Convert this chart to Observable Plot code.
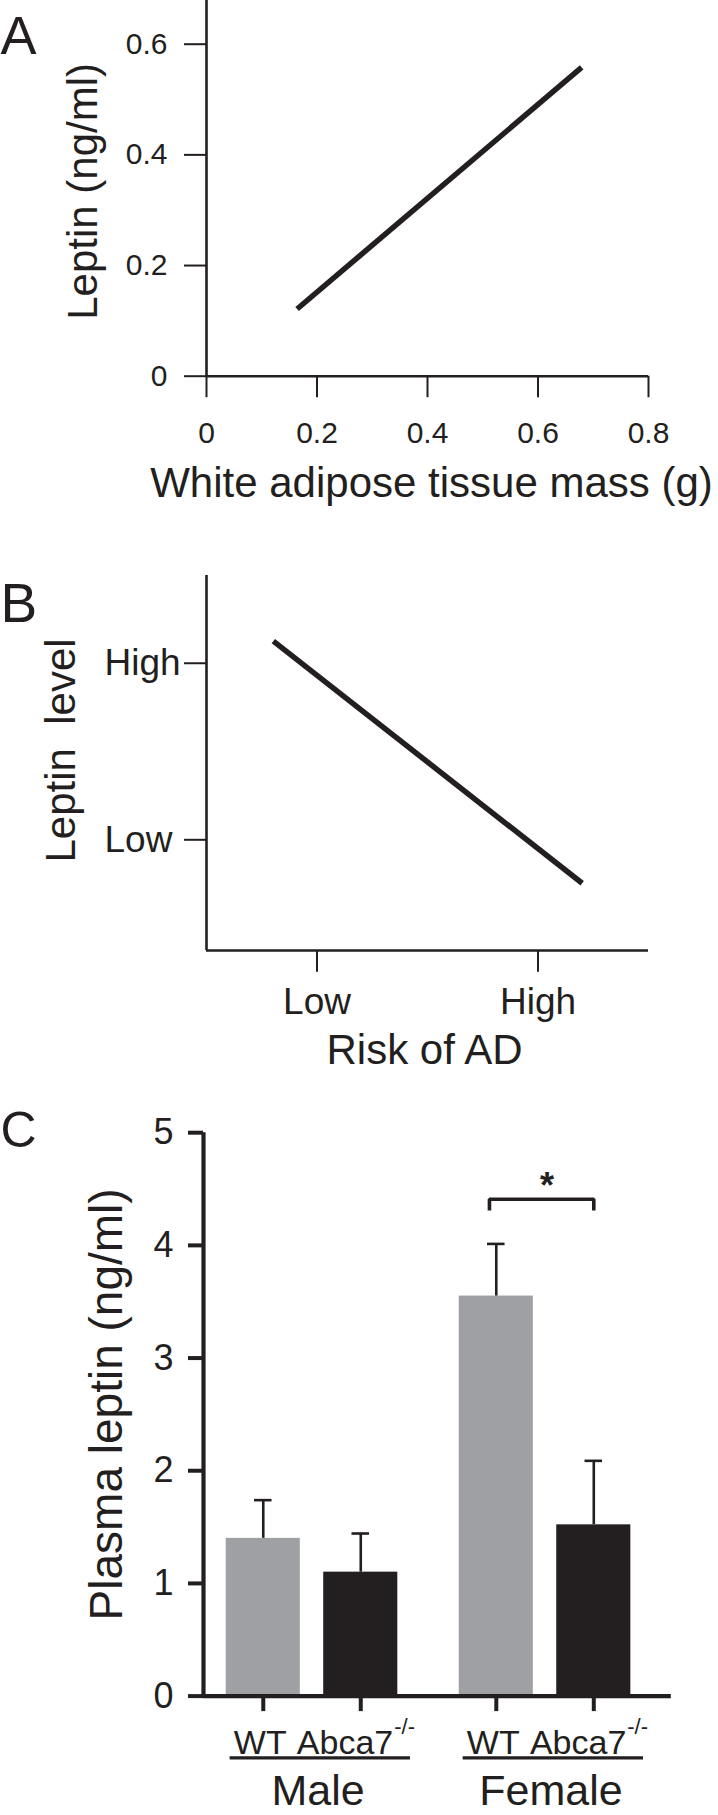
<!DOCTYPE html>
<html>
<head>
<meta charset="utf-8">
<script src="https://cdn.jsdelivr.net/npm/d3@7"></script>
<script src="https://cdn.jsdelivr.net/npm/@observablehq/plot@0.6"></script>
<style>
  html, body { margin: 0; padding: 0; background: #ffffff; }
  #fig { position: relative; width: 718px; height: 1815px; overflow: hidden; background: #ffffff; }
  #fig > svg { position: absolute; left: 0; }
</style>
</head>
<body>
<div id="fig"></div>
<script>
// ---------- Data ----------
// Panel A: leptin vs white adipose tissue mass (regression line endpoints)
const massA = [0.164, 0.679];
const leptinA = [0.1215, 0.558];
const xTicksA = [0, 0.2, 0.4, 0.6, 0.8];
const yTicksA = [0, 0.2, 0.4, 0.6];

// Panel B: schematic leptin level vs risk of AD (1 = Low, 2 = High)
const riskB = [0.121, 0.680];
const levelB = [2.125, 0.754];
const riskTicksB = [0.2, 0.6];
const riskLabelsB = ["Low", "High"];
const levelTicksB = [1, 2];
const levelLabelsB = ["Low", "High"];

// Panel C: plasma leptin by sex and genotype (mean, SEM)
const sexes = ["Male", "Female"];
const genotypes = ["WT", "Abca7"];
const cSex = ["Male", "Male", "Female", "Female"];
const cGeno = ["WT", "Abca7", "WT", "Abca7"];
const cMean = [1.40, 1.10, 3.55, 1.52];
const cSE = [0.339, 0.343, 0.463, 0.568];
const yTicksC = [0, 1, 2, 3, 4, 5];
const sigY = 4.41;          // significance bracket level
const sigDrop = 0.10;       // bracket end drop
const sigLabel = "*";

// ---------- Style ----------
const INK = "#231f20";
const GRAY = "#9fa0a3";
const FONT = "'Liberation Sans', Arial, Helvetica, sans-serif";
const fig = document.getElementById("fig");
const baseStyle = {fontFamily: FONT, color: INK, background: "transparent", overflow: "visible"};

function place(svg, top) { svg.style.top = top + "px"; fig.appendChild(svg); }

// ---------- Panel A ----------
const dataA = massA.map((m, i) => ({mass: m, leptin: leptinA[i]}));
const plotA = Plot.plot({
  width: 718, height: 520,
  marginLeft: 206, marginRight: 70, marginTop: 0, marginBottom: 144.3,
  x: {domain: [0, 0.8]},
  y: {domain: [0, 0.679]},
  style: baseStyle,
  marks: [
    Plot.axisY({ticks: yTicksA, tickSize: 22, tickPadding: 17, fontSize: 30, strokeWidth: 2,
      tickFormat: d => d === 0 ? "0" : d.toFixed(1), label: null}),
    Plot.axisX({ticks: xTicksA, tickSize: 21.5, tickPadding: 24, fontSize: 30, strokeWidth: 2,
      tickFormat: d => d === 0 ? "0" : d.toFixed(1), label: null}),
    Plot.ruleX([0], {strokeWidth: 2.6, stroke: INK}),
    Plot.ruleY([0], {strokeWidth: 2.6, stroke: INK}),
    Plot.line(dataA, {x: "mass", y: "leptin", stroke: INK, strokeWidth: 5.5, strokeLinecap: "butt"}),
    Plot.text(["White adipose tissue mass (g)"], {text: d => d, frameAnchor: "bottom", dy: 121, dx: 4,
      textAnchor: "middle", lineAnchor: "bottom", fontSize: 42, fill: INK}),
    Plot.text(["Leptin (ng/ml)"], {text: d => d, frameAnchor: "left", rotate: -90, textAnchor: "middle",
      lineAnchor: "top", dx: -139.3, dy: 3, fontSize: 42, fill: INK}),
    Plot.text(["A"], {text: d => d, frameAnchor: "top-left", textAnchor: "start", lineAnchor: "bottom",
      dx: -206, dy: 53.3, fontSize: 54, fill: INK})
  ]
});
place(plotA, 0);

// ---------- Panel B ----------
const dataB = riskB.map((r, i) => ({risk: r, level: levelB[i]}));
const plotB = Plot.plot({
  width: 718, height: 550,
  marginLeft: 206, marginRight: 70, marginTop: 55, marginBottom: 120,
  x: {domain: [0, 0.8]},
  y: {domain: [0.373, 2.497]},
  style: baseStyle,
  marks: [
    Plot.axisY({ticks: levelTicksB, tickSize: 22, tickPadding: 80, textAnchor: "start", fontSize: 37,
      strokeWidth: 2, tickFormat: d => levelLabelsB[levelTicksB.indexOf(d)], label: null}),
    Plot.axisX({ticks: riskTicksB, tickSize: 21.7, tickPadding: 15.6, fontSize: 37, strokeWidth: 2,
      tickFormat: d => riskLabelsB[riskTicksB.indexOf(d)], label: null}),
    Plot.ruleX([0], {strokeWidth: 2.6, stroke: INK}),
    Plot.ruleY([0.373], {strokeWidth: 2.6, stroke: INK}),
    Plot.line(dataB, {x: "risk", y: "level", stroke: INK, strokeWidth: 5.5, strokeLinecap: "butt"}),
    Plot.text(["Risk of AD"], {text: d => d, frameAnchor: "bottom", dy: 113.3, dx: -3,
      textAnchor: "middle", lineAnchor: "bottom", fontSize: 42, fill: INK}),
    Plot.text(["Leptin\u00a0 level"], {text: d => d, frameAnchor: "left", rotate: -90, textAnchor: "middle",
      lineAnchor: "top", dx: -161, dy: -12.5, fontSize: 42, fill: INK}),
    Plot.text(["B"], {text: d => d, frameAnchor: "top-left", textAnchor: "start", lineAnchor: "bottom",
      dx: -206, dy: 46.7, fontSize: 55, fill: INK})
  ]
});
place(plotB, 520);

// ---------- Panel C ----------
const GROUP_STEP = 2.39, BAR_HALF = 0.38, CAP_HALF = 0.09;
const posOf = (s, g) => sexes.indexOf(s) * GROUP_STEP + genotypes.indexOf(g);
const dataC = cMean.map((m, i) => ({sex: cSex[i], geno: cGeno[i], mean: m, se: cSE[i], pos: posOf(cSex[i], cGeno[i])}));
const groupsC = sexes.map(s => ({sex: s, first: posOf(s, genotypes[0]), last: posOf(s, genotypes[1])}));
const xDomainC = [-0.613, 4.185];
const sigPair = dataC.filter(d => d.sex === "Female");
const bracket = [
  {x: sigPair[0].pos - 0.07, y: sigY - sigDrop},
  {x: sigPair[0].pos - 0.07, y: sigY},
  {x: sigPair[1].pos, y: sigY},
  {x: sigPair[1].pos, y: sigY - sigDrop}
];

const plotC = Plot.plot({
  width: 718, height: 745,
  marginLeft: 203, marginRight: 47.2, marginTop: 62.2, marginBottom: 119.4,
  x: {domain: xDomainC},
  y: {domain: [0, 5]},
  color: {domain: genotypes, range: [GRAY, INK]},
  style: baseStyle,
  marks: [
    Plot.rectY(dataC, {x1: d => d.pos - BAR_HALF, x2: d => d.pos + BAR_HALF, y: "mean", fill: "geno"}),
    Plot.ruleX(dataC, {x: "pos", y1: "mean", y2: d => d.mean + d.se, stroke: INK, strokeWidth: 2.6}),
    Plot.ruleY(dataC, {y: d => d.mean + d.se, x1: d => d.pos - CAP_HALF, x2: d => d.pos + CAP_HALF, stroke: INK, strokeWidth: 2.6}),
    Plot.axisY({ticks: yTicksC, tickSize: 15, tickPadding: 15, fontSize: 36, strokeWidth: 4,
      tickFormat: d => String(d), label: null}),
    Plot.axisX({ticks: dataC.map(d => d.pos), tickSize: 15.5, strokeWidth: 4, tickFormat: () => "", label: null}),
    Plot.ruleX([xDomainC[0]], {strokeWidth: 4.2, stroke: INK}),
    Plot.ruleY([0], {strokeWidth: 4.2, stroke: INK}),
    Plot.line(bracket, {x: "x", y: "y", stroke: INK, strokeWidth: 3.6, strokeLinecap: "butt", strokeLinejoin: "miter"}),
    Plot.text([sigLabel], {text: d => d, x: () => (sigPair[0].pos + sigPair[1].pos) / 2, y: () => sigY,
      dx: 2, dy: -1, textAnchor: "middle", lineAnchor: "bottom", fontSize: 36, fontWeight: "bold", fill: INK}),
    // genotype labels
    Plot.text(dataC.filter(d => d.geno === "WT"), {text: () => "WT", x: "pos", y: () => 0, dx: -3, dy: 57.7,
      textAnchor: "middle", lineAnchor: "bottom", fontSize: 34, letterSpacing: -1, fill: INK}),
    Plot.text(dataC.filter(d => d.geno === "Abca7"), {text: () => "Abca7", x: "pos", y: () => 0, dx: 32.5, dy: 57.7,
      textAnchor: "end", lineAnchor: "bottom", fontSize: 34, letterSpacing: -0.5, fill: INK}),
    Plot.text(dataC.filter(d => d.geno === "Abca7"), {text: () => "-/-", x: "pos", y: () => 0, dx: 33.5, dy: 38,
      textAnchor: "start", lineAnchor: "bottom", fontSize: 22, fill: INK}),
    Plot.ruleY(groupsC, {y: () => 0, x1: d => d.first - 0.34, x2: d => d.last + 0.51, dy: 61.7, stroke: INK, strokeWidth: 3.3}),
    Plot.text(groupsC, {text: "sex", x: d => (d.first + d.last) / 2, y: () => 0, dx: 6, dy: 109,
      textAnchor: "middle", lineAnchor: "bottom", fontSize: 43, fill: INK}),
    Plot.text(["Plasma leptin (ng/ml)"], {text: d => d, frameAnchor: "left", rotate: -90, textAnchor: "middle",
      lineAnchor: "top", dx: -113.7, dy: -10, fontSize: 46, fill: INK}),
    Plot.text(["C"], {text: d => d, frameAnchor: "top-left", textAnchor: "start", lineAnchor: "bottom",
      dx: -203, dy: 14.5, fontSize: 50, fill: INK})
  ]
});
place(plotC, 1070);
</script>
</body>
</html>
